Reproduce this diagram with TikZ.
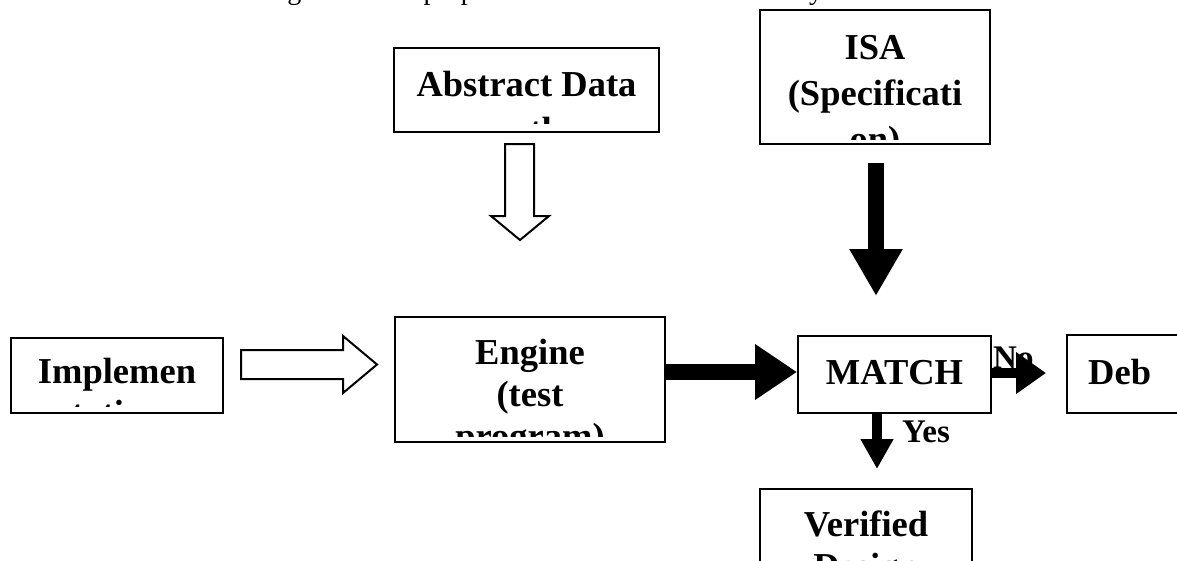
\documentclass[tikz,border=0pt]{standalone}
\usepackage{fontspec}
\setmainfont{Liberation Serif}
\usetikzlibrary{arrows.meta,calc}

% multi-line box text, baseline on the first row
\newcommand\boxlines[1]{\begin{tabular}[t]{@{}c@{}}#1\end{tabular}}

\tikzset{
  box/.style={draw, line width=2pt, inner sep=0pt, rectangle},
  boxtext/.style={font=\bfseries\fontsize{36.5}{42}\selectfont, inner sep=0pt, anchor=base},
  widelines/.style={font=\bfseries\fontsize{36.5}{46}\selectfont},
  lbl/.style={font=\bfseries\fontsize{33}{36}\selectfont, inner sep=0pt, anchor=base west},
  hollow/.style={draw, line width=2pt, fill=white, line join=miter},
  bigarrow/.style={draw, line width=16pt},
  smallarrow/.style={draw, line width=10pt},
}

\begin{document}
\begin{tikzpicture}[x=1pt, y=-1pt]
  \useasboundingbox (0,0) rectangle (1177,560);
  \fill[white] (0,0) rectangle (1177,560);
  \clip (0,0) rectangle (1177,560);

  % last line of the paragraph above, only its descenders on the page
  \node[anchor=base west, font=\fontsize{28}{32}\selectfont, inner sep=0pt] (intro)
    at (202.5,-1) {The diagram of the proposed verification of ISA theory};

  % boxes
  \node[box, minimum width=265pt, minimum height=84pt]  (abs)      at (526.5,90)   {};
  \node[box, minimum width=230pt, minimum height=134pt] (isa)      at (875,77)     {};
  \node[box, minimum width=212pt, minimum height=75pt]  (impl)     at (117,375.5)  {};
  \node[box, minimum width=270pt, minimum height=125pt] (engine)   at (530,379.5)  {};
  \node[box, minimum width=193pt, minimum height=77pt]  (match)    at (894.5,374.5){};
  \node[box, minimum width=173pt, minimum height=78pt]  (deb)      at (1153.5,374) {};
  \node[box, minimum width=212pt, minimum height=111pt] (verified) at (866,544.5)  {};

  % box texts, cut off at the inner margin of each box
  \begin{scope}
    \clip ([yshift=10pt]abs.south west) rectangle (abs.north east);
    \node[boxtext, widelines] (abstxt) at (526.5,96) {\boxlines{Abstract Data\\path}};
  \end{scope}
  \begin{scope}
    \clip ([yshift=6pt]isa.south west) rectangle (isa.north east);
    \node[boxtext, widelines] (isatxt) at (875,59) {\boxlines{ISA\\(Specificati\\on)}};
  \end{scope}
  \begin{scope}
    \clip ([yshift=8pt]impl.south west) rectangle (impl.north east);
    \node[boxtext] (impltxt) at (117,383) {\boxlines{Implemen\\tation}};
  \end{scope}
  \begin{scope}
    \clip ([yshift=7pt]engine.south west) rectangle (engine.north east);
    \node[boxtext] (enginetxt) at (530,364) {\boxlines{Engine\\(test\\program)}};
  \end{scope}
  \node[boxtext] (matchtxt) at (894.5,384) {MATCH};
  \node[boxtext, anchor=base west] (debtxt) at (1088,384) {Deb};
  \node[boxtext] (verifiedtxt) at (866,536) {\boxlines{Verified\\Design}};

  % hollow block arrows
  \draw[hollow] (505,144) -- (534,144) -- (534,216) -- (549,216) -- (520,240)
                -- (491,216) -- (505,216) -- cycle;
  \draw[hollow] (241,350) -- (343,350) -- (343,336) -- (377,364.5) -- (343,393)
                -- (343,379) -- (241,379) -- cycle;

  % solid arrows
  \draw[bigarrow, -{Triangle[length=47pt,width=50pt]}]
    ($(isa.south)+(1,18)$) -- ($(isa.south |- match.north)+(1,-39)$);
  \draw[bigarrow, -{Triangle[length=42pt,width=53pt]}]
    ($(engine.east)+(0,-7.5)$) -- ($(match.west)+(0,-2.5)$);
  \draw[smallarrow, -{Triangle[length=30pt,width=40pt]}]
    ($(match.east)+(0,-1.5)$) -- ($(deb.west)+(-20,-1)$);
  \draw[smallarrow, -{Triangle[length=30pt,width=31pt]}]
    ($(match.south)+(-17.5,0)$) -- ($(verified.north)+(11,-19)$);

  % branch labels
  \node[lbl] (nolbl)  at (993,368) {No};
  \node[lbl] (yeslbl) at (902,442) {Yes};
\end{tikzpicture}
\end{document}
